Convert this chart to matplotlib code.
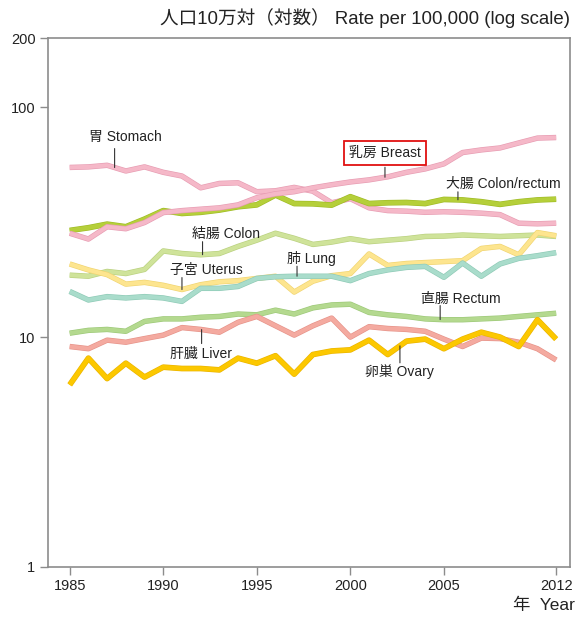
import matplotlib
matplotlib.use('Agg')
import matplotlib.pyplot as plt
import matplotlib.patheffects as pe
import numpy as np

plt.rcParams['font.family'] = ['Liberation Sans', 'Noto Sans CJK JP', 'DejaVu Sans']

# 27 yearly points, the source labels the last one "2012"
years = list(range(1985, 2012))
xtick_pos = [1985, 1990, 1995, 2000, 2005, 2011]
xtick_labels = ['1985', '1990', '1995', '2000', '2005', '2012']
ytick_vals = [1, 10, 100, 200]

stomach = [54.7, 55.0, 55.9, 52.8, 55.0, 52.1, 50.2, 44.6, 46.6, 46.9, 42.9, 43.3, 44.8, 43.1,
           38.4, 40.0, 36.5, 35.5, 35.3, 34.9, 35.1, 34.9, 34.6, 34.1, 31.3, 31.1, 31.3]
breast = [28.3, 26.7, 30.2, 29.6, 31.5, 34.8, 35.5, 36.0, 36.5, 37.6, 40.4, 42.0, 42.9, 44.6,
          46.0, 47.3, 48.3, 49.8, 52.1, 53.9, 56.7, 63.5, 65.2, 66.5, 69.9, 73.4, 73.8]
colorectum = [29.1, 29.9, 31.0, 30.2, 32.6, 35.5, 34.5, 34.9, 35.7, 36.9, 37.6, 41.5, 38.1, 38.0,
              37.5, 40.8, 38.1, 38.4, 38.5, 38.1, 39.7, 39.5, 38.8, 37.8, 38.8, 39.5, 39.8]
colon = [18.6, 18.4, 19.3, 18.9, 19.7, 23.7, 23.1, 22.8, 23.1, 24.8, 26.4, 28.3, 26.9, 25.3,
         25.9, 26.8, 26.0, 26.4, 26.8, 27.4, 27.5, 27.8, 27.6, 27.4, 27.6, 27.8, 27.4]
uterus = [20.8, 19.6, 18.7, 17.0, 17.3, 16.8, 16.1, 16.9, 17.4, 17.6, 18.0, 18.4, 15.7, 17.5,
          18.5, 18.9, 23.0, 20.5, 20.9, 21.1, 21.3, 21.5, 24.3, 24.8, 22.8, 28.5, 27.6]
lung = [15.8, 14.5, 15.0, 14.8, 15.0, 14.8, 14.3, 16.3, 16.3, 16.6, 18.0, 18.3, 18.4, 18.4,
        18.4, 17.6, 18.9, 19.6, 20.1, 20.3, 18.2, 21.0, 18.4, 20.8, 22.0, 22.6, 23.3]
rectum = [10.4, 10.7, 10.8, 10.6, 11.7, 12.0, 12.0, 12.2, 12.3, 12.6, 12.5, 13.1, 12.6, 13.4,
          13.8, 13.9, 12.8, 12.5, 12.3, 12.0, 11.9, 11.9, 12.0, 12.1, 12.3, 12.5, 12.7]
liver = [9.1, 8.9, 9.7, 9.5, 9.85, 10.2, 11.0, 10.8, 10.5, 11.6, 12.3, 11.2, 10.2, 11.2,
         12.1, 10.0, 11.1, 10.9, 10.8, 10.6, 9.8, 9.1, 9.9, 9.85, 9.5, 8.9, 7.95]
ovary = [6.2, 8.1, 6.6, 7.7, 6.7, 7.4, 7.3, 7.3, 7.2, 8.1, 7.7, 8.3, 6.9, 8.4,
         8.7, 8.8, 9.7, 8.4, 9.6, 9.8, 8.9, 9.8, 10.5, 10.0, 9.1, 11.9, 9.8]

# (values, colour, edge colour, width)
series = [
    (colon, '#cfe39a', '#b9d07e', 3.0),
    (uterus, '#fde58f', '#f0d470', 3.0),
    (lung, '#a9dccb', '#8ecab6', 3.0),
    (rectum, '#b4d98f', '#9cc877', 3.0),
    (liver, '#f4aaa0', '#e69288', 3.0),
    (stomach, '#f5b8c8', '#e79cb2', 3.0),
    (colorectum, '#b5cf3a', '#9fbb25', 3.2),
    (breast, '#f5b8c8', '#e79cb2', 3.0),
    (ovary, '#fcc800', '#eab400', 3.2),
]

# label, series, year of leader, leader length px, text offset px (dx, dy)
labels = [
    ('胃 Stomach', stomach, 1987.4, 19, (11, 31)),
    ('乳房 Breast', breast, 2001.85, 10, (0, 24)),
    ('大腸 Colon/rectum', colorectum, 2005.75, 8, (45, 16)),
    ('結腸 Colon', colon, 1992.1, 13, (23, 21)),
    ('子宮 Uterus', uterus, 1991.0, 12, (24, 20)),
    ('肺 Lung', lung, 1997.15, 10, (14, 18)),
    ('直腸 Rectum', rectum, 2004.8, 14, (21, 21)),
    ('肝臓 Liver', liver, 1992.05, -14, (-1, -24)),
    ('卵巣 Ovary', ovary, 2002.65, -17, (0, -26)),
]


def at(year, vals):
    return 10 ** np.interp(year, years, np.log10(vals))


fig = plt.figure(figsize=(5.77, 6.17), dpi=100)
ax = fig.add_axes([48 / 577, 1 - 567 / 617, 522 / 577, 529 / 617])

for vals, col, edge, lw in series:
    ax.plot(years, vals, color=col, lw=lw, solid_joinstyle='round', solid_capstyle='butt',
            path_effects=[pe.Stroke(linewidth=lw + 0.9, foreground=edge), pe.Normal()])

ax.set_yscale('log')
ax.set_ylim(1, 200)
ax.set_xlim(1983.84, 2011.74)
ax.set_yticks(ytick_vals)
ax.set_yticklabels([str(v) for v in ytick_vals])
ax.minorticks_off()
ax.set_xticks(xtick_pos)
ax.set_xticklabels(xtick_labels)

px = 0.72  # points per pixel at 100 dpi
for text, vals, yr, lead, (dx, dy) in labels:
    yv = at(yr, vals)
    ax.annotate('', xy=(yr, yv), xytext=(0, lead * px), textcoords='offset points',
                arrowprops=dict(arrowstyle='-', lw=0.8, color='#333333', shrinkA=0, shrinkB=0))
    box = None
    if text.startswith('乳房'):
        box = dict(boxstyle='square,pad=0.35', fc='white', ec='#e01010', lw=1.3)
    ax.annotate(text, xy=(yr, yv), xytext=(dx * px, dy * px), textcoords='offset points',
                ha='center', va='center', fontsize=10, color='#222222', bbox=box, zorder=5)

for s in ax.spines.values():
    s.set_color('#8c8c8c')
    s.set_linewidth(1.2)
ax.tick_params(direction='out', length=6, width=1, color='#8c8c8c', labelsize=10.5,
               labelcolor='#222222', pad=3)

fig.text(570 / 577, 1 - 18 / 617, '人口10万対（対数） Rate per 100,000 (log scale)',
         ha='right', va='center', fontsize=13.4, color='#222222')
fig.text(575 / 577, 1 - 605 / 617, '年  Year', ha='right', va='center', fontsize=12.5,
         color='#222222')

fig.savefig('out.png', dpi=100, facecolor='white')
